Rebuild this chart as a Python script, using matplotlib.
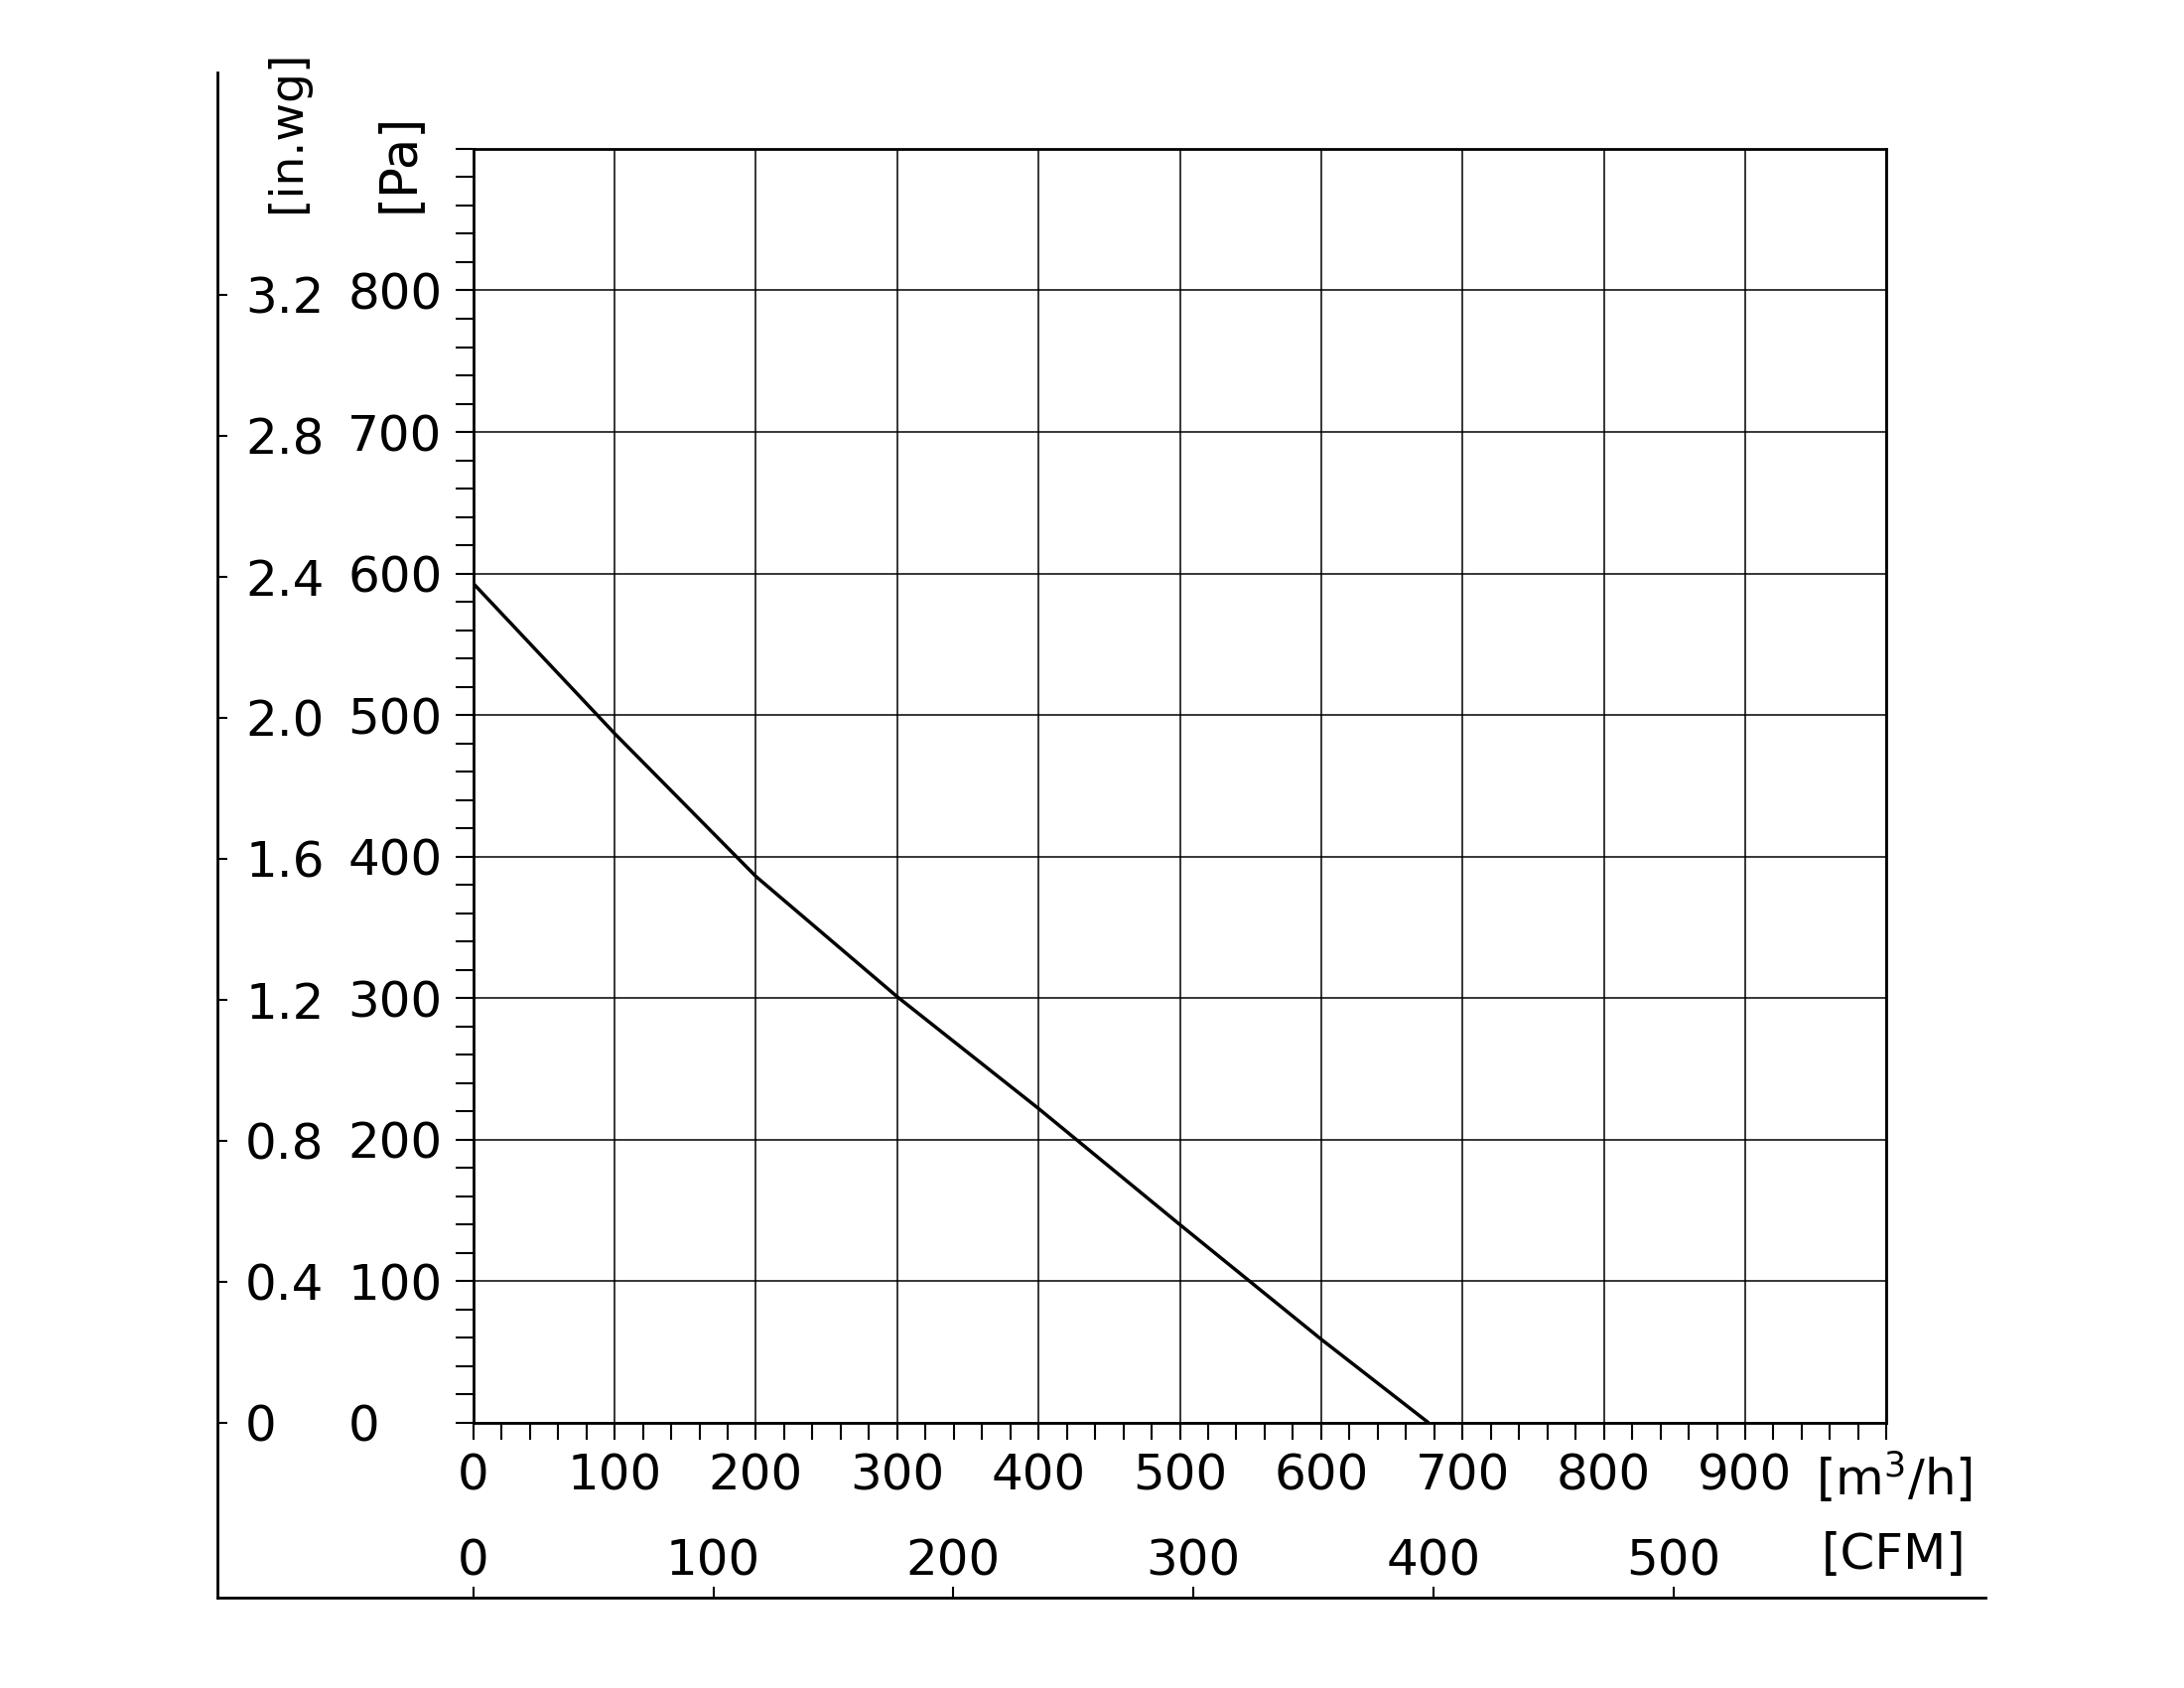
import matplotlib
matplotlib.use("Agg")
import matplotlib.pyplot as plt
from matplotlib.ticker import FixedLocator, MultipleLocator

# ---- data ----
flow_m3h = [0, 100, 200, 300, 400, 500, 600, 676]
pressure_pa = [593, 487, 386, 301, 222, 140, 59, 0]

x_ticks_m3h = [0, 100, 200, 300, 400, 500, 600, 700, 800, 900, 1000]
x_labels_m3h = ["0", "100", "200", "300", "400", "500", "600", "700", "800", "900", ""]
y_ticks_pa = [0, 100, 200, 300, 400, 500, 600, 700, 800, 900]
y_labels_pa = ["0", "100", "200", "300", "400", "500", "600", "700", "800", ""]
inwg_ticks = [0, 0.4, 0.8, 1.2, 1.6, 2.0, 2.4, 2.8, 3.2]
inwg_labels = ["0", "0.4", "0.8", "1.2", "1.6", "2.0", "2.4", "2.8", "3.2"]
cfm_ticks = [0, 100, 200, 300, 400, 500]
cfm_labels = ["0", "100", "200", "300", "400", "500"]

PA_PER_INWG = 249.089
M3H_PER_CFM = 1.69901

FS = 36
plt.rcParams["font.family"] = ["DejaVu Sans"]

fig = plt.figure(figsize=(22, 17), dpi=100)

# main plot box
L, B, W, H = 0.2167, 0.1571, 0.6471, 0.7547
XMAX, YMAX = 1000, 900
ax = fig.add_axes([L, B, W, H], zorder=2)

# outer frame axes (in.wg / CFM)
oL, oB, oR, oT = 0.0994, 0.0533, 0.9091, 0.957
axo = fig.add_axes([oL, oB, oR - oL, oT - oB], zorder=1)
axo.patch.set_visible(False)

# --- main axes ---
ax.plot(flow_m3h, pressure_pa, color="black", lw=2.5, zorder=5,
        solid_joinstyle="round", solid_capstyle="butt")
ax.set_xlim(0, XMAX)
ax.set_ylim(0, YMAX)

ax.xaxis.set_major_locator(FixedLocator(x_ticks_m3h))
ax.set_xticklabels(x_labels_m3h)
ax.xaxis.set_minor_locator(MultipleLocator(20))
ax.yaxis.set_major_locator(FixedLocator(y_ticks_pa))
ax.set_yticklabels(y_labels_pa)
ax.yaxis.set_minor_locator(MultipleLocator(20))

ax.grid(True, which="major", color="black", lw=1.1)
ax.set_axisbelow(True)
for s in ax.spines.values():
    s.set_linewidth(2.0)
    s.set_color("black")

ax.tick_params(axis="x", which="both", direction="out", length=12, width=1.5,
               labelsize=FS, pad=9, colors="black")
ax.tick_params(axis="y", which="both", direction="out", length=13, width=1.5,
               labelsize=FS, pad=78, colors="black")
for lbl in ax.get_yticklabels():
    lbl.set_horizontalalignment("left")

# --- outer axes ---
y0 = (oB - B) / H * YMAX / PA_PER_INWG
y1 = (oT - B) / H * YMAX / PA_PER_INWG
x0 = (oL - L) / W * XMAX / M3H_PER_CFM
x1 = (oR - L) / W * XMAX / M3H_PER_CFM
axo.set_xlim(x0, x1)
axo.set_ylim(y0, y1)
for side in ("top", "right"):
    axo.spines[side].set_visible(False)
for side in ("left", "bottom"):
    axo.spines[side].set_linewidth(2.0)
    axo.spines[side].set_color("black")

axo.yaxis.set_major_locator(FixedLocator(inwg_ticks))
axo.set_yticklabels(inwg_labels)
axo.xaxis.set_major_locator(FixedLocator(cfm_ticks))
axo.set_xticklabels(cfm_labels)

axo.tick_params(axis="y", direction="in", length=7, width=1.5, labelsize=FS,
                pad=-20.5, colors="black")
for lbl in axo.get_yticklabels():
    lbl.set_horizontalalignment("left")
axo.tick_params(axis="x", direction="in", length=8, width=1.5, labelsize=FS,
                pad=-16.5, colors="black")
for lbl in axo.get_xticklabels():
    lbl.set_verticalalignment("baseline")

# --- unit labels ---
fig.text(0.1314, 0.874, "[in.wg]", rotation=90, rotation_mode="anchor",
         ha="left", va="center", fontsize=FS - 2)
fig.text(0.1827, 0.874, "[Pa]", rotation=90, rotation_mode="anchor",
         ha="left", va="center", fontsize=FS + 1)
fig.text(0.8313, 0.125, "[m$^3$/h]", ha="left", va="center", fontsize=FS)
fig.text(0.8340, 0.0790, "[CFM]", ha="left", va="center", fontsize=FS)

fig.savefig("out.png", dpi=100, facecolor="white")
